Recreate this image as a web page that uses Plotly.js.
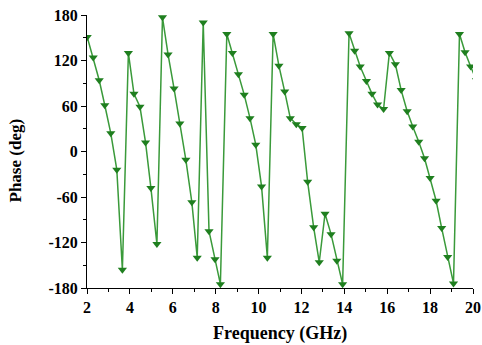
<!DOCTYPE html>
<html>
<head>
<meta charset="utf-8">
<script src="https://cdn.plot.ly/plotly-3.0.1.min.js"></script>
<style>html,body{margin:0;padding:0;background:#fff;}#chart{width:482px;height:345px;}</style>
</head>
<body>
<div id="chart"></div>
<script>
const freq = [2.01, 2.29, 2.57, 2.83, 3.11, 3.39, 3.65, 3.93, 4.19, 4.47, 4.73, 4.98, 5.26, 5.52, 5.78, 6.06, 6.33, 6.61, 6.89, 7.14, 7.42, 7.69, 7.97, 8.22,
  8.52, 8.78, 9.06, 9.33, 9.60, 9.87, 10.14, 10.41, 10.68, 10.95, 11.22, 11.48, 11.76, 12.03, 12.29, 12.57, 12.83, 13.10, 13.38, 13.65, 13.92,
  14.22, 14.48, 14.74, 15.03, 15.29, 15.55, 15.83, 16.10, 16.38, 16.65, 16.93, 17.19, 17.47, 17.74, 18.00, 18.28, 18.54, 18.82, 19.09, 19.37, 19.63, 19.89, 20.16];
const phase = [151, 124, 94, 61, 24, -24, -156, 130, 76, 59, 12, -48, -122, 177, 128, 83, 37, -11, -67, -140, 170, -105, -142, -175,
  155, 130, 102, 75, 44, 9, -46, -140, 155, 113, 79, 44, 36, 31, -40, -100, -146, -82, -109, -144, -175,
  156, 133, 112, 93, 76, 62, 56, 130, 115, 81, 53, 33, 13, -9, -35, -65, -101, -139, -174, 155, 131, 112, 94];
const xTicks = [2, 4, 6, 8, 10, 12, 14, 16, 18, 20];
const yTicks = [-180, -120, -60, 0, 60, 120, 180];
const xTitle = 'Frequency (GHz)';
const yTitle = 'Phase (deg)';

const trace = {
  x: freq, y: phase, type: 'scatter', mode: 'lines+markers',
  line: {color: '#3a9a3a', width: 1.5},
  marker: {symbol: 'triangle-down', size: 8, color: '#1f7f1f', line: {width: 0}},
  cliponaxis: true
};
const fontFam = '"Liberation Serif", "Times New Roman", serif';
const layout = {
  width: 482, height: 345,
  margin: {l: 87, r: 9, t: 15, b: 57},
  paper_bgcolor: '#fff', plot_bgcolor: '#fff',
  showlegend: false,
  font: {family: fontFam, color: '#000'},
  xaxis: {
    range: [2, 20], tickvals: xTicks, ticktext: xTicks.map(String),
    showgrid: false, zeroline: false, showline: true, linecolor: '#000', linewidth: 1,
    ticks: 'outside', ticklen: 5, tickwidth: 1, tickcolor: '#000',
    minor: {dtick: 1, ticks: 'outside', ticklen: 3, tickcolor: '#000', showgrid: false},
    tickfont: {family: fontFam, size: 16, color: '#000', weight: 'bold'}
  },
  yaxis: {
    range: [-180, 180], tickvals: yTicks, ticktext: yTicks.map(String),
    showgrid: false, zeroline: false, showline: true, linecolor: '#000', linewidth: 1,
    ticks: 'outside', ticklen: 5, tickwidth: 1, tickcolor: '#000',
    minor: {dtick: 30, ticks: 'outside', ticklen: 3, tickcolor: '#000', showgrid: false},
    tickfont: {family: fontFam, size: 16, color: '#000', weight: 'bold'}
  },
  annotations: [
    {xref: 'paper', yref: 'paper', x: 0.5, y: -0.168, xanchor: 'center', yanchor: 'middle',
     text: '<b>' + xTitle + '</b>', showarrow: false, font: {family: fontFam, size: 18, color: '#000'}},
    {xref: 'paper', yref: 'paper', x: -0.184, y: 0.467, xanchor: 'center', yanchor: 'middle', textangle: -90,
     text: '<b>' + yTitle + '</b>', showarrow: false, font: {family: fontFam, size: 17, color: '#000'}}
  ]
};
Plotly.newPlot('chart', [trace], layout, {staticPlot: true, displayModeBar: false});
</script>
</body>
</html>
